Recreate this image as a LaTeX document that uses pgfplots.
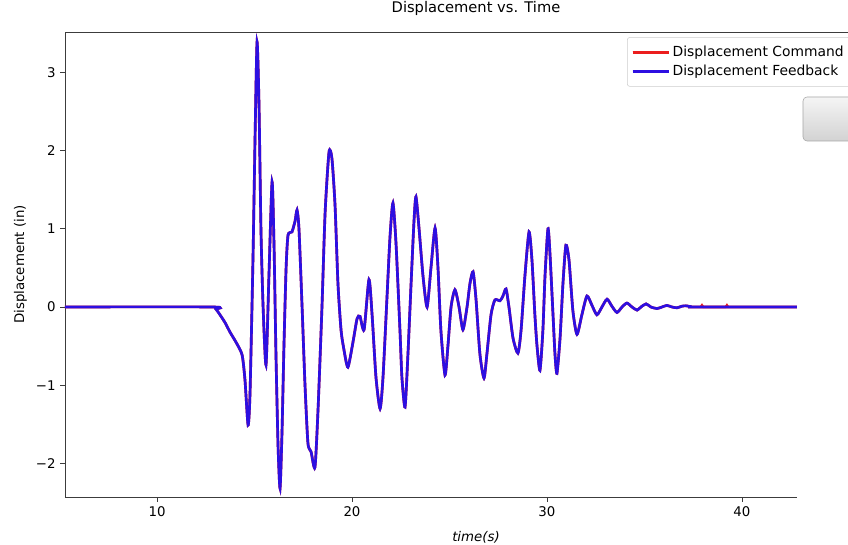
\documentclass[border=0pt]{standalone}
\usepackage{fontspec}
\setmainfont{DejaVu Sans}
\usepackage{pgfplots}
\pgfplotsset{compat=1.18}
\definecolor{cmdred}{RGB}{235,30,30}
\definecolor{fbblue}{RGB}{45,15,225}
\definecolor{spine}{RGB}{60,60,60}

% time (s), displacement (in)
\pgfplotstableread{
t d
5.00 0
12.82 0
13.03 -0.03
13.23 -0.10
13.49 -0.20
13.74 -0.32
14.05 -0.45
14.36 -0.61
14.51 -0.93
14.67 -1.51
14.77 -1.10
14.92 0.60
15.03 2.20
15.13 3.39
15.23 2.60
15.33 1.00
15.44 0.00
15.59 -0.74
15.74 0.40
15.90 1.60
16.00 0.80
16.10 -0.60
16.21 -1.80
16.31 -2.32
16.41 -1.60
16.51 -0.50
16.62 0.50
16.72 0.92
16.92 0.96
17.08 1.10
17.18 1.24
17.28 1.00
17.44 0.00
17.59 -1.00
17.74 -1.74
17.90 -1.85
18.10 -2.05
18.26 -1.30
18.46 0.00
18.62 1.20
18.82 1.98
18.97 1.90
19.13 1.30
19.28 0.30
19.44 -0.30
19.59 -0.55
19.79 -0.77
20.05 -0.45
20.26 -0.15
20.41 -0.12
20.62 -0.29
20.87 0.35
21.03 -0.10
21.23 -0.90
21.44 -1.30
21.59 -0.90
21.79 0.10
21.95 0.90
22.10 1.33
22.26 0.80
22.46 -0.30
22.56 -0.90
22.72 -1.28
22.87 -0.60
23.03 0.30
23.18 1.10
23.28 1.41
23.44 1.00
23.64 0.40
23.85 0.00
24.05 0.50
24.26 1.01
24.41 0.50
24.56 -0.30
24.77 -0.87
24.92 -0.50
25.08 0.00
25.28 0.22
25.49 0.00
25.69 -0.29
25.90 0.00
26.05 0.30
26.21 0.45
26.36 0.10
26.56 -0.60
26.77 -0.91
26.92 -0.60
27.13 -0.10
27.33 0.09
27.59 0.08
27.74 0.14
27.90 0.23
28.05 0.00
28.26 -0.40
28.51 -0.59
28.67 -0.30
28.87 0.40
29.08 0.96
29.23 0.60
29.38 -0.10
29.49 -0.50
29.64 -0.81
29.79 -0.30
29.90 0.40
30.05 1.00
30.15 0.70
30.31 -0.10
30.41 -0.60
30.51 -0.85
30.67 -0.40
30.82 0.30
30.97 0.79
31.13 0.60
31.33 -0.05
31.54 -0.35
31.79 -0.10
32.05 0.14
32.31 0.02
32.56 -0.10
32.82 0.00
33.08 0.10
33.33 0.01
33.59 -0.07
33.85 0.00
34.10 0.05
34.36 0.00
34.62 -0.04
34.82 0.00
35.08 0.04
35.33 0.00
35.64 -0.02
35.90 0.00
36.15 0.02
36.41 0.00
36.67 -0.01
36.92 0.01
37.13 0.015
37.49 0.00
37.85 0
48.00 0
}\disp

% small spots where the command shows beside the feedback
\pgfplotstableread{
t d
37.88 0
37.95 0.025
38.02 0
39.16 0
39.23 0.025
39.30 0
}\cmdspots

\begin{document}
\begin{tikzpicture}[x=1pt,y=1pt]
\useasboundingbox (-48.75,-36) rectangle (587.25,372.75);
\begin{axis}[
    at={(0,0)}, anchor=south west,
    scale only axis,
    width=616.5pt, height=348.75pt,
    xmin=5.28, xmax=47.44,
    ymin=-2.43, ymax=3.517,
    xtick={10,20,30,40},
    ytick={-2,-1,0,1,2,3},
    yticklabels={−2,−1,0,1,2,3},
    xtick pos=bottom, ytick pos=left,
    tick align=outside,
    major tick length=3.5pt,
    tick style={spine, line width=0.6pt},
    axis line style={spine, line width=0.6pt},
    /pgf/number format/assume math mode=true,
    tick label style={font=\fontsize{10}{12}\selectfont},
    title={Displacement vs. Time},
    title style={font=\fontsize{11}{13}\selectfont, at={(0.5,1)}, anchor=south, yshift=3pt},
    xlabel={\textit{time(s)}},
    xlabel style={yshift=-4pt},
    ylabel={Displacement (in)},
    label style={font=\fontsize{10}{12}\selectfont},
    legend style={at={(0.6837,0.989)}, anchor=north west, draw=black!20,
        rounded corners=2pt, font=\fontsize{10.4}{12.5}\selectfont,
        row sep=1pt, inner xsep=3pt, inner ysep=4.5pt},
    legend cell align=left,
    legend image code/.code={\draw[#1, line width=1.5pt] (0pt,0pt) -- (22pt,0pt); \path (0pt,0pt) -- (27pt,0pt);},
]
\addplot[cmdred, line width=2pt, smooth, tension=0.4] table[x=t, y=d] {\disp};
\addlegendentry{Displacement Command}
\addplot[cmdred, line width=1.6pt, forget plot] table[x=t, y=d] {\cmdspots};
\addplot[fbblue, line width=2pt, smooth, tension=0.4] table[x=t, y=d] {\disp};
\addlegendentry{Displacement Feedback}
\end{axis}
% window panel that covers the right part of the figure
\fill[white] (549,-40) rectangle (600,306.5);
\shade[top color=gray!8, bottom color=gray!35, draw=gray!70, rounded corners=3pt]
    (553.5,267) rectangle (600,300);
\end{tikzpicture}
\end{document}
